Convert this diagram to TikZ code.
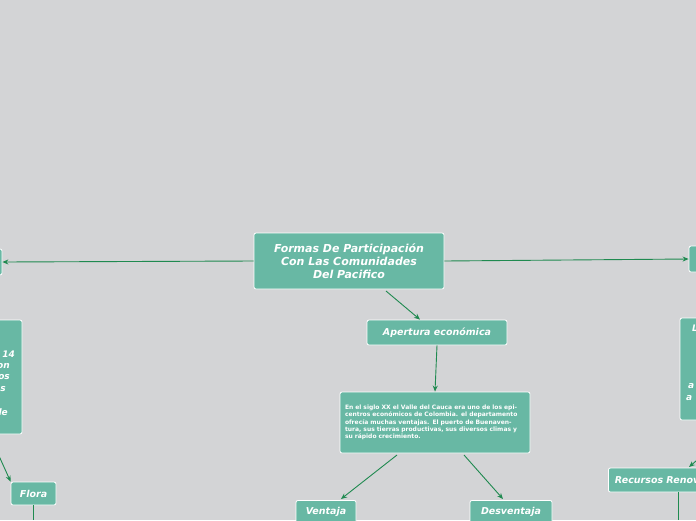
\documentclass[tikz,border=0pt]{standalone}
\usepackage{fontspec}
\setmainfont{DejaVu Sans}
\usetikzlibrary{arrows.meta}
\definecolor{bg}{HTML}{D3D4D6}
\definecolor{boxc}{HTML}{68B8A4}
\definecolor{linec}{HTML}{1F8A50}
\tikzset{
 box/.style={draw=white,line width=0.8pt,fill=boxc,rounded corners=2pt,text=white,font=\bfseries\itshape,align=center,inner sep=0pt},
 conn/.style={draw=linec,line width=0.9pt,-{Stealth[length=6pt,width=5pt]}},
 plain/.style={draw=linec,line width=0.9pt},
 frag/.style={text=white,font=\fontsize{9}{11}\selectfont\bfseries\itshape,inner sep=0pt}
}
\begin{document}
\begin{tikzpicture}[x=1pt,y=-1pt]
\fill[bg] (0,0) rectangle (696,520);
\clip (0,0) rectangle (696,520);
\useasboundingbox (0,0) rectangle (696,520);
% center
\node[box,minimum width=190pt,minimum height=56pt,font=\fontsize{11}{13}\selectfont\bfseries\itshape] (c) at (349,261) {Formas De Participación\\Con Las Comunidades\\Del Pacifico};
\node[box,minimum width=140pt,minimum height=25pt,font=\fontsize{9.5}{11}\selectfont\bfseries\itshape] (ap) at (437,332.5) {Apertura económica};
\node[box,minimum width=190pt,minimum height=61pt,align=left,text width=180pt,font=\fontsize{6}{7.3}\selectfont\bfseries] (tx) at (435,422.5) {\hyphenpenalty=10000 En el siglo XX el Valle del Cauca era uno de los epicentros económicos de Colombia. el departamento ofrecía muchas ventajas. El puerto de Buenaventura, sus tierras productivas, sus diversos climas y su rápido crecimiento.};
\node[box,minimum width=60pt,minimum height=26pt,anchor=north,font=\fontsize{9.5}{11}\selectfont\bfseries\itshape] (ve) at (326,500) {\raisebox{5pt}{Ventaja}};
\node[box,minimum width=82pt,minimum height=26pt,anchor=north,font=\fontsize{9.5}{11}\selectfont\bfseries\itshape] (de) at (511,500) {\raisebox{5pt}{Desventaja}};
% left
\node[box,minimum width=20pt,minimum height=26pt] (lt) at (-8,262) {};
\node[box,minimum width=102pt,minimum height=114pt] (lb) at (-29,377) {};
\node[frag,anchor=east] at (15,354) {14};
\node[frag,anchor=east] at (10,366) {on};
\node[frag,anchor=east] at (10,377) {os};
\node[frag,anchor=east] at (6,389) {s};
\node[frag,anchor=east] at (8,412) {de};
\node[box,minimum width=45pt,minimum height=23pt,font=\fontsize{9.5}{11}\selectfont\bfseries\itshape] (fl) at (33.5,493.5) {Flora};
% right
\node[box,minimum width=20pt,minimum height=26pt] (rt) at (699,259) {};
\node[box,minimum width=40pt,minimum height=102pt] (rb) at (700,369) {};
\node[frag,anchor=west] at (692,328) {L};
\node[frag,anchor=west] at (688,386) {a};
\node[frag,anchor=west] at (686,398) {a};
\node[box,minimum width=120pt,minimum height=24pt,anchor=west,font=\fontsize{9.5}{11}\selectfont\bfseries\itshape] (rr) at (608,480) {\hspace*{6pt}Recursos Renovables};
% connectors
\draw[conn] (c.west) -- (lt.east);
\draw[conn] (c.east) -- (rt.west);
\draw[conn] (386,291) -- (ap.north -| 420,0);
\draw[conn] (ap.south) -- (tx.north);
\draw[conn] (397,455) -- (341,499);
\draw[conn] (464,455) -- (503,499);
\draw[conn] (-10,436) -- (fl.north west);
\draw[plain] (fl.south) -- (33.5,520);
\draw[conn] (703,455) -- (689,467);
\draw[plain] (678,492) -- (678,520);
\end{tikzpicture}
\end{document}
